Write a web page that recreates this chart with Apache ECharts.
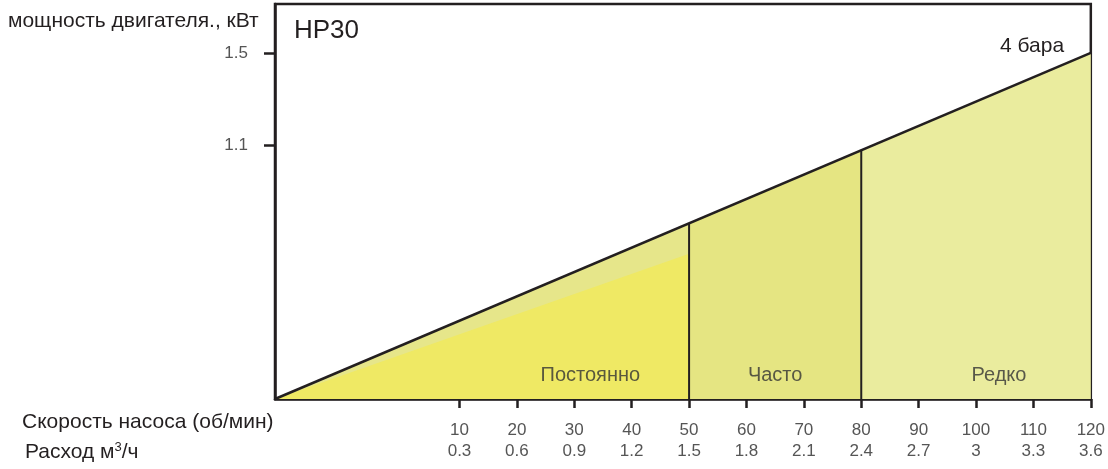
<!DOCTYPE html>
<html>
<head>
<meta charset="utf-8">
<script src="https://cdn.jsdelivr.net/npm/echarts@6/dist/echarts.min.js"></script>
<style>
  html, body { margin: 0; padding: 0; background: #fff; }
  #chart { width: 1108px; height: 469px; }
</style>
</head>
<body>
<div id="chart"></div>
<script>
// скорость насоса, об/мин
var speedTicks = [10, 20, 30, 40, 50, 60, 70, 80, 90, 100, 110, 120];
// расход м3/ч под каждой отметкой скорости
var flowLabels = ['0.3', '0.6', '0.9', '1.2', '1.5', '1.8', '2.1', '2.4', '2.7', '3', '3.3', '3.6'];
var powerTicks = [1.1, 1.5];

// линия мощности (4 бара): точки начала, границ зон и конца
var lineX = [-22.15, 50, 80, 120];
var lineY = [0, 0.76, 1.08, 1.5];
// нижняя граница ярко-жёлтой зоны "Постоянно"
var constX = [-22.15, 50];
var constY = [0, 0.63];

var zoneNames = ['Постоянно', 'Часто', 'Редко'];
var zoneLabelX = [32.8, 65, 104];

var xMin = -22.15, xMax = 120, yMax = 1.712;
var font = '"Liberation Sans", Arial, sans-serif';

var chart = echarts.init(document.getElementById('chart'));

function seg(i0, i1) {
  return [[lineX[i0], lineY[i0]], [lineX[i1], lineY[i1]]];
}

var option = {
  animation: false,
  grid: {
    left: 275, right: 15, top: 4, bottom: 70,
    show: true, borderColor: '#231f20', borderWidth: 2.5, backgroundColor: 'transparent'
  },
  xAxis: [{
    type: 'value', min: xMin, max: xMax, position: 'bottom',
    splitLine: { show: false },
    axisLine: { show: true, onZero: false, lineStyle: { color: '#231f20', width: 2.5 } },
    axisTick: { show: true, length: 9, customValues: speedTicks, lineStyle: { color: '#231f20', width: 2.5 } },
    axisLabel: { customValues: speedTicks, margin: 23, color: '#555', fontSize: 17, fontFamily: font }
  }, {
    type: 'value', min: xMin, max: xMax, position: 'bottom', offset: 21,
    splitLine: { show: false },
    axisLine: { show: false },
    axisTick: { show: false },
    axisLabel: {
      customValues: speedTicks, margin: 23, color: '#555', fontSize: 17, fontFamily: font,
      formatter: function (v) { return flowLabels[speedTicks.indexOf(v)]; }
    }
  }],
  yAxis: {
    type: 'value', min: 0, max: yMax,
    splitLine: { show: false },
    axisLine: { show: true, onZero: false, lineStyle: { color: '#231f20', width: 2.5 } },
    axisTick: { show: true, length: 11, customValues: powerTicks, lineStyle: { color: '#231f20', width: 2.5 } },
    axisLabel: { customValues: powerTicks, margin: 27, color: '#555', fontSize: 17, fontFamily: font,
      formatter: function (v) { return v.toFixed(1); } }
  },
  series: [
    { type: 'line', data: seg(0, 1), symbol: 'none', lineStyle: { width: 0 },
      areaStyle: { color: '#e6e68a', opacity: 1 }, z: 1 },
    { type: 'line', data: [[constX[0], constY[0]], [constX[1], constY[1]]], symbol: 'none', lineStyle: { width: 0 },
      areaStyle: { color: '#efe964', opacity: 1 }, z: 2 },
    { type: 'line', data: seg(1, 2), symbol: 'none', lineStyle: { width: 0 },
      areaStyle: { color: '#e5e582', opacity: 1 }, z: 1 },
    { type: 'line', data: seg(2, 3), symbol: 'none', lineStyle: { width: 0 },
      areaStyle: { color: '#eaec9e', opacity: 1 }, z: 1 },
    { type: 'line', data: seg(0, 3), symbol: 'none',
      lineStyle: { color: '#231f20', width: 2.5 }, z: 5 },
    { type: 'line', data: [[lineX[1], 0], [lineX[1], lineY[1]]], symbol: 'none',
      lineStyle: { color: '#231f20', width: 2 }, z: 5 },
    { type: 'line', data: [[lineX[2], 0], [lineX[2], lineY[2]]], symbol: 'none',
      lineStyle: { color: '#231f20', width: 2 }, z: 5 },
    { type: 'scatter', symbolSize: 0, z: 6,
      data: zoneNames.map(function (n, i) { return { value: [zoneLabelX[i], 0.1], name: n }; }),
      label: { show: true, position: 'inside', formatter: '{b}', color: '#333', fontSize: 20, fontFamily: font } }
  ],
  graphic: [
    { type: 'text', left: 8, top: 11, style: { text: 'мощность двигателя., кВт', fill: '#231f20', fontSize: 21, fontFamily: font } },
    { type: 'text', left: 294, top: 18, style: { text: 'HP30', fill: '#231f20', fontSize: 26, fontFamily: font } },
    { type: 'text', left: 1000, top: 36, style: { text: '4 бара', fill: '#231f20', fontSize: 21, fontFamily: font } },
    { type: 'text', left: 22, top: 412, style: { text: 'Скорость насоса (об/мин)', fill: '#231f20', fontSize: 21, fontFamily: font } },
    { type: 'text', left: 25, top: 441, style: { rich: { b: { fontSize: 21, fontFamily: font, fill: '#231f20' }, s: { fontSize: 13, fontFamily: font, fill: '#231f20', verticalAlign: 'top', padding: [0, 0, 10, 0] } },
      text: '{b|Расход м}{s|3}{b|/ч}' } }
  ]
};
chart.setOption(option);
</script>
</body>
</html>
